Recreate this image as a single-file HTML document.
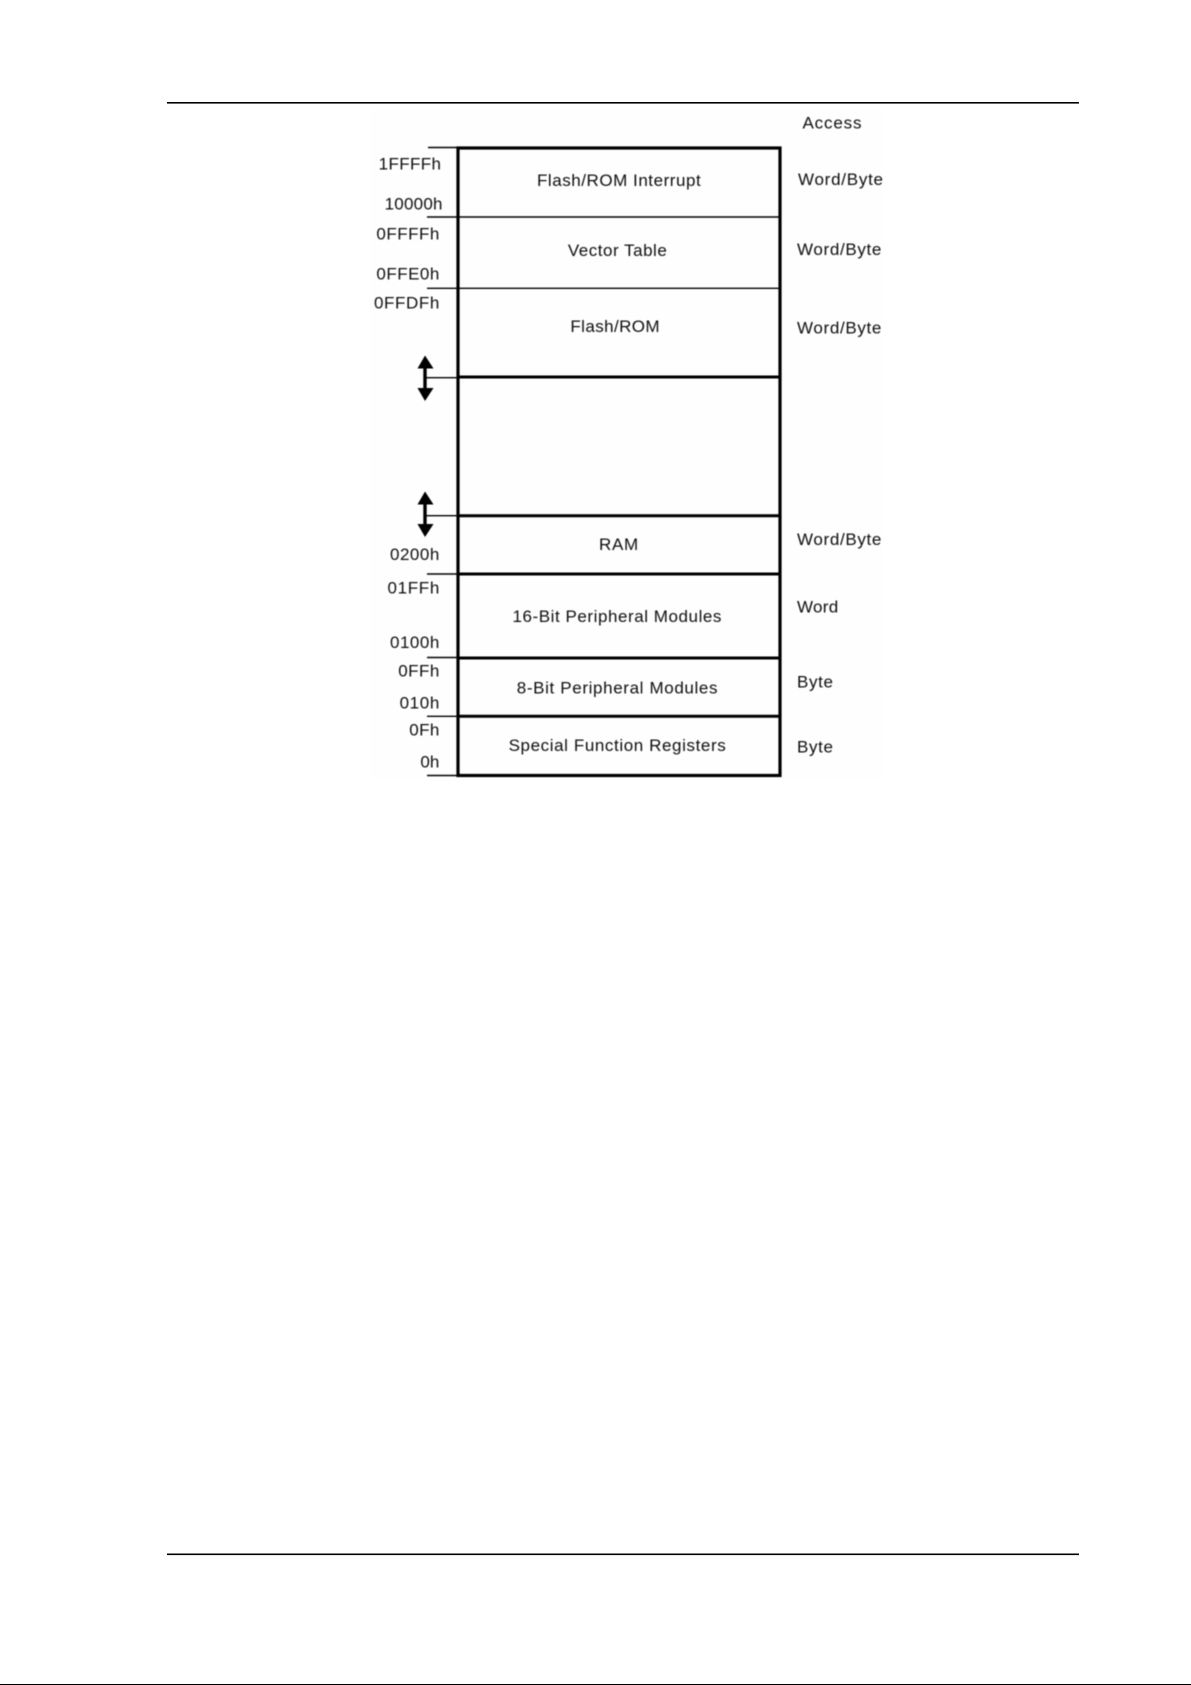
<!DOCTYPE html>
<html><head><meta charset="utf-8"><title>Memory map</title>
<style>
html,body{margin:0;padding:0;background:#fff;width:1191px;height:1685px;overflow:hidden}
svg{display:block}
text{font-family:"Liberation Sans",Arial,sans-serif;font-size:17px;fill:#111}
</style></head>
<body>
<svg width="1191" height="1685" viewBox="0 0 1191 1685" xmlns="http://www.w3.org/2000/svg">
<defs><filter id="b" x="-2%" y="-2%" width="104%" height="104%"><feGaussianBlur stdDeviation="0.4"/></filter></defs>
<rect x="167" y="102" width="912" height="1.6" fill="#000"/>
<rect x="167" y="1553.5" width="912" height="1.6" fill="#000"/>
<rect x="0" y="1684" width="1191" height="1" fill="#000"/>
<rect x="370" y="110" width="512" height="668" fill="#fefefe"/>
<g filter="url(#b)">
<g stroke="#000" fill="none">
<rect x="458" y="148" width="322" height="627.5" stroke-width="3.2"/>
<g stroke-width="1.4">
<line x1="428" y1="147.5" x2="458" y2="147.5"/>
<line x1="427" y1="217" x2="780" y2="217"/>
<line x1="427" y1="288.3" x2="780" y2="288.3"/>
<line x1="425" y1="377.7" x2="458" y2="377.7"/>
<line x1="425" y1="515.7" x2="458" y2="515.7"/>
<line x1="427" y1="574" x2="458" y2="574"/>
<line x1="427" y1="657.5" x2="458" y2="657.5"/>
<line x1="427" y1="716.3" x2="458" y2="716.3"/>
<line x1="427" y1="775.5" x2="458" y2="775.5"/>
</g>
<g stroke-width="3">
<line x1="458" y1="377" x2="780" y2="377"/>
<line x1="458" y1="515.7" x2="780" y2="515.7"/>
<line x1="458" y1="574" x2="780" y2="574"/>
<line x1="458" y1="658" x2="780" y2="658"/>
<line x1="458" y1="716.3" x2="780" y2="716.3"/>
</g>
<line x1="425" y1="365" x2="425" y2="391" stroke-width="3.4"/>
<line x1="425" y1="501" x2="425" y2="527" stroke-width="3.4"/>
</g>
<g fill="#000">
<polygon points="425,355.5 433.5,368.5 417.5,368.5"/>
<polygon points="417.5,388 433.5,388 425,401"/>
<polygon points="425,491.5 433.5,504.5 417.5,504.5"/>
<polygon points="417.5,524 433.5,524 425,537"/>
</g>
<text x="802.5" y="128.3" textLength="59">Access</text>
<text x="378.6" y="169.3" textLength="62.4">1FFFFh</text>
<text x="384.6" y="209.3" textLength="57.9">10000h</text>
<text x="376.4" y="239.3" textLength="62.9">0FFFFh</text>
<text x="376.4" y="279.3" textLength="62.9">0FFE0h</text>
<text x="374" y="308.3" textLength="65.3">0FFDFh</text>
<text x="390" y="560" textLength="49.3">0200h</text>
<text x="387.5" y="593.3" textLength="51.8">01FFh</text>
<text x="390" y="648" textLength="49.3">0100h</text>
<text x="398.2" y="676.7" textLength="41.1">0FFh</text>
<text x="399.6" y="708.3" textLength="39.7">010h</text>
<text x="409.3" y="735.7" textLength="30">0Fh</text>
<text x="420.4" y="767.3" textLength="18.9">0h</text>
<text x="537" y="186" textLength="163.7">Flash/ROM Interrupt</text>
<text x="567.9" y="256" textLength="98.9">Vector Table</text>
<text x="570.4" y="332" textLength="89.2">Flash/ROM</text>
<text x="599" y="550" textLength="39.2">RAM</text>
<text x="512.5" y="622" textLength="208.9">16-Bit Peripheral Modules</text>
<text x="516.8" y="693.3" textLength="200.7">8-Bit Peripheral Modules</text>
<text x="508.6" y="751" textLength="217.1">Special Function Registers</text>
<text x="798" y="185" textLength="85">Word/Byte</text>
<text x="797" y="255" textLength="84.4">Word/Byte</text>
<text x="797" y="333.3" textLength="84.4">Word/Byte</text>
<text x="797" y="545" textLength="84.4">Word/Byte</text>
<text x="797" y="612.3" textLength="41.2">Word</text>
<text x="797" y="687.7" textLength="36">Byte</text>
<text x="797" y="752.3" textLength="36">Byte</text>
</g>
</svg>
</body></html>
